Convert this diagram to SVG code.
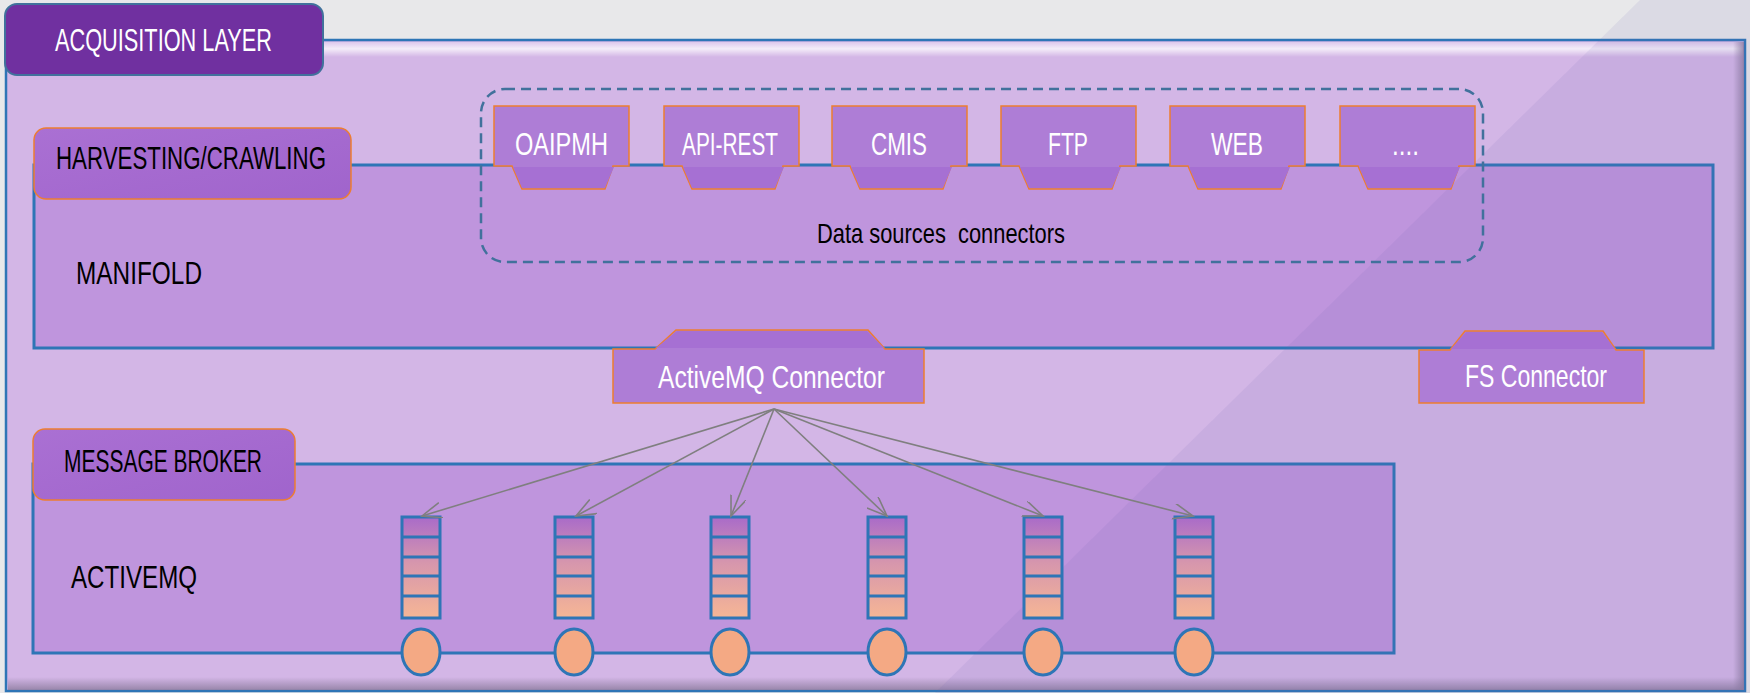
<svg xmlns="http://www.w3.org/2000/svg" xmlns:xlink="http://www.w3.org/1999/xlink" width="1750" height="693" viewBox="0 0 1750 693">
  <defs>
    <style>
      .t { font-family: "Liberation Sans Narrow", "Liberation Sans", Arial, sans-serif; font-size: 32px; }
      .w { fill: #ffffff; }
      .k { fill: #000000; }
      .tab { fill: url(#tabGrad); stroke: #ed7d31; stroke-width: 1.5; }
      .layer { fill: #bf95dd; stroke: #2e75b6; stroke-width: 3; }
      .conn { fill: #ae7dd6; stroke: #ed7d31; stroke-width: 1.5; }
      .connLow { fill: #a670d3; }
      .qbox { fill: url(#qGrad); stroke: #2e75b6; stroke-width: 3; }
      .qline { stroke: #2e75b6; stroke-width: 3; }
      .disk { fill: #f4a984; stroke: #2e75b6; stroke-width: 3; }
      .arrow { stroke: #7f7f7f; stroke-width: 1.6; fill: none; marker-end: url(#vhead); }
    </style>
    <linearGradient id="tabGrad" x1="0" y1="0" x2="1" y2="1">
      <stop offset="0" stop-color="#aa70d3"/>
      <stop offset="1" stop-color="#a064cc"/>
    </linearGradient>
    <linearGradient id="qGrad" x1="0" y1="0" x2="0" y2="1">
      <stop offset="0" stop-color="#a96bc9"/>
      <stop offset="0.45" stop-color="#d696ad"/>
      <stop offset="1" stop-color="#f6b695"/>
    </linearGradient>
    <linearGradient id="topBevel" x1="0" y1="0" x2="0" y2="1">
      <stop offset="0" stop-color="#ffffff" stop-opacity="0.25"/>
      <stop offset="0.45" stop-color="#ffffff" stop-opacity="0.75"/>
      <stop offset="1" stop-color="#ffffff" stop-opacity="0"/>
    </linearGradient>
    <linearGradient id="rightBevel" x1="0" y1="0" x2="1" y2="0">
      <stop offset="0" stop-color="#8a7a9c" stop-opacity="0"/>
      <stop offset="1" stop-color="#8a7a9c" stop-opacity="0.8"/>
    </linearGradient>
    <linearGradient id="bottomBevel" x1="0" y1="0" x2="0" y2="1">
      <stop offset="0" stop-color="#8a7a9c" stop-opacity="0"/>
      <stop offset="1" stop-color="#8a7a9c" stop-opacity="0.8"/>
    </linearGradient>
    <marker id="vhead" markerUnits="userSpaceOnUse" markerWidth="22" markerHeight="18" refX="20" refY="8" orient="auto">
      <path d="M0,0 L20,8 L0,16" fill="none" stroke="#7f7f7f" stroke-width="1.6"/>
    </marker>
    <g id="dsShape">
      <path class="conn" d="M0,166 L0,106 L135,106 L135,166 L119,166 L111,189 L28,189 L18,166 Z"/>
      <path class="connLow" d="M19,167 L120,167 L111,188 L28,188 Z"/>
    </g>
    <g id="queue">
      <rect class="qbox" x="0" y="517" width="38" height="101"/>
      <line class="qline" x1="0" y1="537" x2="38" y2="537"/>
      <line class="qline" x1="0" y1="557" x2="38" y2="557"/>
      <line class="qline" x1="0" y1="576" x2="38" y2="576"/>
      <line class="qline" x1="0" y1="596" x2="38" y2="596"/>
      <ellipse class="disk" cx="19" cy="652" rx="19" ry="23"/>
    </g>
  </defs>

  <!-- background -->
  <rect x="0" y="0" width="1750" height="693" fill="#e8e8ea"/>

  <!-- acquisition layer panel -->
  <g id="acquisition-layer">
    <rect x="6" y="40" width="1739" height="651" fill="#d3b6e6" stroke="#2e75b6" stroke-width="2.5"/>
    <rect x="8" y="42" width="1735" height="15" fill="url(#topBevel)"/>
    <rect x="1733" y="42" width="11" height="648" fill="url(#rightBevel)"/>
    <rect x="8" y="677" width="1736" height="13" fill="url(#bottomBevel)"/>
    <rect x="5" y="4" width="318" height="71" rx="12" fill="#7030a0" stroke="#41719c" stroke-width="2"/>
    <text class="t w" x="55" y="51" textLength="217" lengthAdjust="spacingAndGlyphs">ACQUISITION LAYER</text>
  </g>

  <!-- harvesting / manifold -->
  <g id="manifold">
    <rect class="layer" x="34" y="165" width="1679" height="183"/>
    <rect class="tab" x="34" y="128" width="317" height="71" rx="12"/>
    <text class="t k" x="56" y="169" textLength="270" lengthAdjust="spacingAndGlyphs">HARVESTING/CRAWLING</text>
    <text class="t k" x="76" y="284" textLength="126" lengthAdjust="spacingAndGlyphs">MANIFOLD</text>
  </g>

  <!-- message broker / activemq -->
  <g id="activemq">
    <rect class="layer" x="33" y="464" width="1361" height="189"/>
    <rect class="tab" x="33" y="429" width="262" height="71" rx="12"/>
    <text class="t k" x="64" y="472" textLength="198" lengthAdjust="spacingAndGlyphs">MESSAGE BROKER</text>
    <text class="t k" x="71" y="588" textLength="126" lengthAdjust="spacingAndGlyphs">ACTIVEMQ</text>
  </g>

  <!-- diagonal sheen over the backgrounds -->
  <polygon points="1640,0 1750,0 1750,693 935,693" fill="#7061b4" opacity="0.1"/>

  <!-- data source connectors group -->
  <g id="data-sources">
    <rect x="481" y="89" width="1002" height="173" rx="24" fill="none" stroke="#41719c" stroke-width="2.5" stroke-dasharray="10 6"/>
    <text class="t k" x="817" y="243" textLength="248" lengthAdjust="spacingAndGlyphs" xml:space="preserve" style="font-size:28px">Data sources  connectors</text>
  </g>

  <g id="ds-oaipmh">
    <use xlink:href="#dsShape" href="#dsShape" x="494" y="0"/>
    <text class="t w" x="515" y="155" textLength="93" lengthAdjust="spacingAndGlyphs">OAIPMH</text>
  </g>
  <g id="ds-api-rest">
    <use xlink:href="#dsShape" href="#dsShape" x="664" y="0"/>
    <text class="t w" x="682" y="155" textLength="96" lengthAdjust="spacingAndGlyphs">API-REST</text>
  </g>
  <g id="ds-cmis">
    <use xlink:href="#dsShape" href="#dsShape" x="832" y="0"/>
    <text class="t w" x="871" y="155" textLength="56" lengthAdjust="spacingAndGlyphs">CMIS</text>
  </g>
  <g id="ds-ftp">
    <use xlink:href="#dsShape" href="#dsShape" x="1001" y="0"/>
    <text class="t w" x="1048" y="155" textLength="40" lengthAdjust="spacingAndGlyphs">FTP</text>
  </g>
  <g id="ds-web">
    <use xlink:href="#dsShape" href="#dsShape" x="1170" y="0"/>
    <text class="t w" x="1211" y="155" textLength="52" lengthAdjust="spacingAndGlyphs">WEB</text>
  </g>
  <g id="ds-more">
    <use xlink:href="#dsShape" href="#dsShape" x="1340" y="0"/>
    <text class="t w" x="1392" y="155" textLength="27" lengthAdjust="spacingAndGlyphs">....</text>
  </g>

  <!-- output connectors -->
  <g id="activemq-connector">
    <path class="conn" d="M613,349 L655,349 L676,330 L868,330 L885,349 L924,349 L924,403 L613,403 Z"/>
    <path class="connLow" d="M656,348 L677,331 L867,331 L884,348 Z"/>
    <text class="t w" x="658" y="388" textLength="227" lengthAdjust="spacingAndGlyphs">ActiveMQ Connector</text>
  </g>
  <g id="fs-connector">
    <path class="conn" d="M1419,350 L1450,350 L1465,331 L1603,331 L1616,350 L1644,350 L1644,403 L1419,403 Z"/>
    <path class="connLow" d="M1451,349 L1466,332 L1602,332 L1615,349 Z"/>
    <text class="t w" x="1465" y="387" textLength="142" lengthAdjust="spacingAndGlyphs">FS Connector</text>
  </g>

  <!-- queues -->
  <g id="queue-1"><use xlink:href="#queue" href="#queue" x="402" y="0"/></g>
  <g id="queue-2"><use xlink:href="#queue" href="#queue" x="555" y="0"/></g>
  <g id="queue-3"><use xlink:href="#queue" href="#queue" x="711" y="0"/></g>
  <g id="queue-4"><use xlink:href="#queue" href="#queue" x="868" y="0"/></g>
  <g id="queue-5"><use xlink:href="#queue" href="#queue" x="1024" y="0"/></g>
  <g id="queue-6"><use xlink:href="#queue" href="#queue" x="1175" y="0"/></g>

  <!-- connectors -->
  <g id="connectors">
    <line class="arrow" x1="774" y1="409" x2="422" y2="516"/>
    <line class="arrow" x1="774" y1="409" x2="576" y2="516"/>
    <line class="arrow" x1="774" y1="409" x2="731" y2="516"/>
    <line class="arrow" x1="774" y1="409" x2="887" y2="516"/>
    <line class="arrow" x1="774" y1="409" x2="1043" y2="516"/>
    <line class="arrow" x1="774" y1="409" x2="1193" y2="516"/>
  </g>
</svg>
